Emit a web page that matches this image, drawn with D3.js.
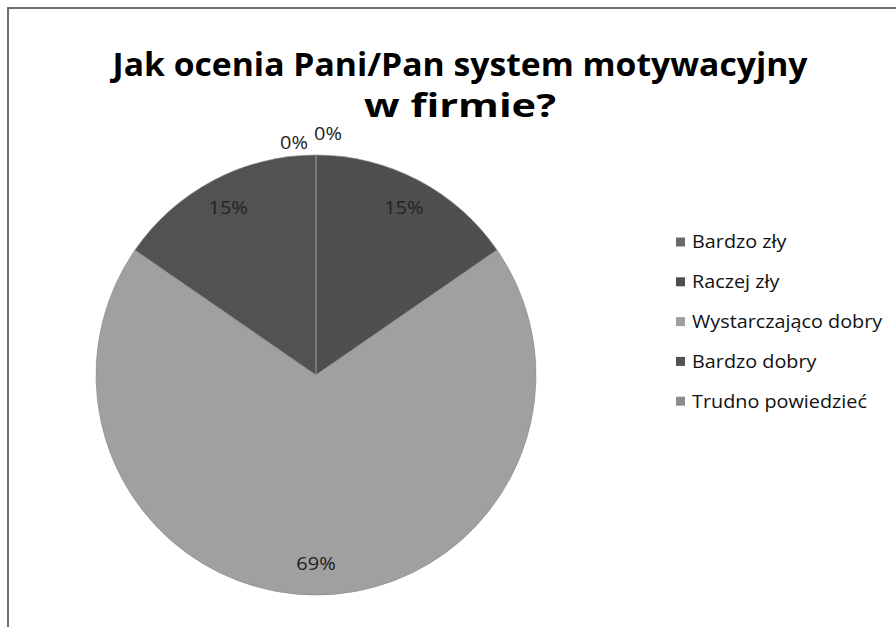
<!DOCTYPE html>
<html><head><meta charset="utf-8">
<script src="https://cdn.jsdelivr.net/npm/d3@7"></script>
<style>body{margin:0;background:#fff}svg{display:block}text{font-family:"Open Sans",sans-serif}</style>
</head><body><svg id="c" width="896" height="627"></svg>
<script>
const categories = ["Bardzo zły","Raczej zły","Wystarczająco dobry","Bardzo dobry","Trudno powiedzieć"];
const values = [0, 2, 9, 2, 0];
const colors = ["#6a6a6a","#4f4f4f","#a0a0a0","#525252","#8c8c8c"];
const titleLines = ["Jak ocenia Pani/Pan system motywacyjny","w firmie?"];

const svg = d3.select("#c");
svg.append("rect").attr("x",8).attr("y",8).attr("width",1000).attr("height",1000)
  .attr("fill","none").attr("stroke","#6e6e6e").attr("stroke-width",2);

svg.selectAll("text.title").data(titleLines).join("text").attr("class","title")
  .attr("x",460).attr("y",(d,i)=>76+i*41).attr("text-anchor","middle")
  .attr("font-size",33).attr("font-weight",700).attr("fill","#000")
  .attr("textLength",(d,i)=>i===0?695:192).attr("lengthAdjust","spacingAndGlyphs")
  .text(d=>d);

const cx=316, cy=375, R=220;
const total = d3.sum(values);
const pie = d3.pie().sort(null).value(d=>d)(values);
const arc = d3.arc().innerRadius(0).outerRadius(R);
const g = svg.append("g").attr("transform",`translate(${cx},${cy})`);
g.selectAll("path").data(pie).join("path").attr("d",arc)
  .attr("fill",(d,i)=>colors[i]).attr("stroke","#8a8a8a").attr("stroke-width",0.6);

function stretch(sel, f){ sel.each(function(){ const n=this; n.setAttribute("textLength", n.getComputedTextLength()*f); n.setAttribute("lengthAdjust","spacingAndGlyphs"); }); }

const fmt = v => Math.round(v/total*100)+"%";
const lblArc = d3.arc().innerRadius(189).outerRadius(189);
const lbls = g.selectAll("text.lbl").data(pie).join("text").attr("class","lbl")
  .attr("transform",(d,i)=>{
    if (d.value>0) { const [x,y]=lblArc.centroid(d); return `translate(${x},${y})`; }
    const ang = d.startAngle;
    const x = (ang<Math.PI? 12 : -22), y = -(R+ (ang<Math.PI?21:12));
    return `translate(${x},${y})`;
  })
  .attr("text-anchor","middle").attr("dy","0.35em")
  .attr("font-size",18.5).attr("fill","#222")
  .text(d=>fmt(d.value));
stretch(lbls, 1.08);

const lg = svg.append("g").attr("transform","translate(676,242)");
const rows = lg.selectAll("g").data(categories).join("g").attr("transform",(d,i)=>`translate(0,${i*39.8})`);
rows.append("rect").attr("x",0).attr("y",-4.5).attr("width",9).attr("height",9).attr("fill",(d,i)=>colors[i]);
const lt = rows.append("text").attr("x",16).attr("dy","0.35em").attr("font-size",18).attr("fill","#111").text(d=>d);
stretch(lt, 1.1);
</script></body></html>
